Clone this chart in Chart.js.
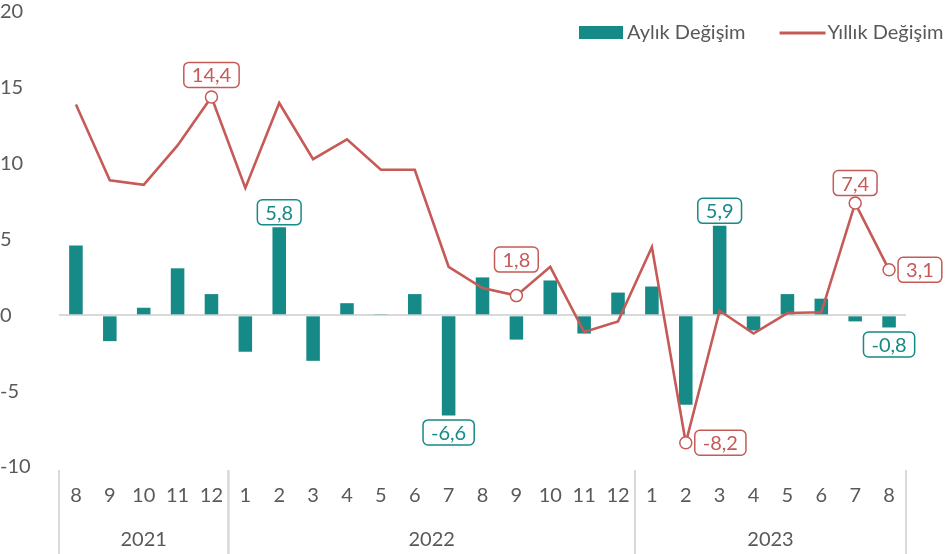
<!DOCTYPE html>
<html lang="tr">
<head>
<meta charset="utf-8">
<title>Aylık ve Yıllık Değişim</title>
<script src="https://cdn.jsdelivr.net/npm/chart.js@4.4.1/dist/chart.umd.min.js"></script>
<style>
    html, body { margin: 0; padding: 0; background: #fff; }
    #wrap { position: relative; width: 950px; height: 554px; }
</style>
</head>
<body>
<div id="wrap"><canvas id="chart"></canvas></div>
<script>
// ── Data ───────────────────────────────────────────────
const months = ['8', '9', '10', '11', '12',
    '1', '2', '3', '4', '5', '6', '7', '8', '9', '10', '11', '12',
    '1', '2', '3', '4', '5', '6', '7', '8'];
const years = ['2021', '2022', '2023'];
const yearSpans = [5, 12, 8];

const monthlyChange = [4.6, -1.7, 0.5, 3.1, 1.4,
    -2.4, 5.8, -3.0, 0.8, 0.05, 1.4, -6.6, 2.5, -1.6, 2.3, -1.2, 1.5,
    1.9, -5.9, 5.9, -1.0, 1.4, 1.1, -0.4, -0.8];
const yearlyChange = [13.9, 8.9, 8.6, 11.2, 14.4,
    8.4, 14.0, 10.3, 11.6, 9.6, 9.6, 3.2, 1.8, 1.3, 3.2, -1.1, -0.4,
    4.5, -8.4, 0.3, -1.2, 0.15, 0.2, 7.4, 3.0];

const yTicks = [-10, -5, 0, 5, 10, 15, 20];

// annotated points
const barLabelIdx = [6, 11, 19, 24];
const lineLabelIdx = [4, 13, 18, 23, 24];
const lineLabelText = ['14,4', '1,8', '-8,2', '7,4', '3,1'];

(function() {
    'use strict';

    const TEAL = '#168a87';
    const RED = '#c55a57';
    const TEXT = '#595959';
    const RULE = '#d9d9d9';
    const FONT = "Lato, 'Open Sans', sans-serif";
    const SIZE = 20;

    // where each line label sits relative to its marker: side + lift
    const lineLabelSide = {
        4: ['top', 22], 13: ['top', 36], 18: ['right', 0], 23: ['top', 20], 24: ['right', 0]
    };

    function fmt(v) {
        return v.toFixed(1).replace('.', ',');
    }

    function roundRect(ctx, x, y, w, h, r) {
        ctx.beginPath();
        ctx.moveTo(x + r, y);
        ctx.lineTo(x + w - r, y);
        ctx.arcTo(x + w, y, x + w, y + r, r);
        ctx.lineTo(x + w, y + h - r);
        ctx.arcTo(x + w, y + h, x + w - r, y + h, r);
        ctx.lineTo(x + r, y + h);
        ctx.arcTo(x, y + h, x, y + h - r, r);
        ctx.lineTo(x, y + r);
        ctx.arcTo(x, y, x + r, y, r);
        ctx.closePath();
    }

    function tagWidth(ctx, text) {
        ctx.font = SIZE + 'px ' + FONT;
        return ctx.measureText(text).width + 16;
    }

    function drawTag(ctx, text, cx, cy, color) {
        const w = tagWidth(ctx, text);
        const h = 25;
        roundRect(ctx, cx - w / 2, cy - h / 2, w, h, 5);
        ctx.fillStyle = '#fff';
        ctx.fill();
        ctx.lineWidth = 1.5;
        ctx.strokeStyle = color;
        ctx.stroke();
        ctx.fillStyle = color;
        ctx.textAlign = 'center';
        ctx.textBaseline = 'middle';
        ctx.fillText(text, cx, cy + 1);
    }

    // ── Value tags ─────────────────────────────────────────
    const tagPlugin = {
        id: 'tags',
        afterDatasetsDraw(chart) {
            const ctx = chart.ctx;
            ctx.save();
            const bars = chart.getDatasetMeta(0).data;
            barLabelIdx.forEach((i) => {
                const el = bars[i];
                const v = monthlyChange[i];
                const cy = v >= 0 ? el.y - 15 : el.y + 17;
                drawTag(ctx, fmt(v), el.x, cy, TEAL);
            });
            const pts = chart.getDatasetMeta(1).data;
            lineLabelIdx.forEach((i, k) => {
                const el = pts[i];
                const text = lineLabelText[k];
                const side = lineLabelSide[i];
                if (side[0] === 'right') {
                    drawTag(ctx, text, el.x + 9 + tagWidth(ctx, text) / 2, el.y, RED);
                } else {
                    drawTag(ctx, text, el.x, el.y - side[1], RED);
                }
            });
            ctx.restore();
        }
    };

    // ── Year groups under the month axis ───────────────────
    const yearPlugin = {
        id: 'years',
        afterDraw(chart) {
            const ctx = chart.ctx;
            const x = chart.scales.x;
            const half = (x.getPixelForValue(1) - x.getPixelForValue(0)) / 2;
            const top = chart.chartArea.bottom + 3;
            const bottom = chart.height;
            ctx.save();
            ctx.strokeStyle = RULE;
            ctx.lineWidth = 2;
            ctx.fillStyle = TEXT;
            ctx.font = SIZE + 'px ' + FONT;
            ctx.textAlign = 'center';
            ctx.textBaseline = 'middle';
            let start = 0;
            years.forEach((yr, g) => {
                const end = start + yearSpans[g] - 1;
                const left = x.getPixelForValue(start) - half;
                const right = x.getPixelForValue(end) + half;
                [left, right].forEach((px) => {
                    ctx.beginPath();
                    ctx.moveTo(px, top);
                    ctx.lineTo(px, bottom);
                    ctx.stroke();
                });
                ctx.fillText(yr, (left + right) / 2, chart.chartArea.bottom + 73);
                start = end + 1;
            });
            ctx.restore();
        }
    };

    // ── Legend (sits over the plot, top right) ─────────────
    const legendPlugin = {
        id: 'topLegend',
        afterDraw(chart) {
            const ctx = chart.ctx;
            const ds = chart.data.datasets;
            ctx.save();
            ctx.font = SIZE + 'px ' + FONT;
            ctx.textBaseline = 'middle';
            ctx.textAlign = 'left';
            const cy = 33;
            let x = 579;
            ctx.fillStyle = ds[0].backgroundColor;
            ctx.fillRect(x, cy - 7, 44, 13);
            x += 48;
            ctx.fillStyle = TEXT;
            ctx.fillText(ds[0].label, x, cy);
            x += ctx.measureText(ds[0].label).width + 34;
            ctx.strokeStyle = ds[1].borderColor;
            ctx.lineWidth = 3;
            ctx.beginPath();
            ctx.moveTo(x, cy);
            ctx.lineTo(x + 46, cy);
            ctx.stroke();
            x += 48;
            ctx.fillText(ds[1].label, x, cy);
            ctx.restore();
        }
    };

    function init() {
        const canvas = document.getElementById('chart');
        new Chart(canvas.getContext('2d'), {
            type: 'bar',
            data: {
                labels: months,
                datasets: [
                    {
                        type: 'bar',
                        label: 'Aylık Değişim',
                        data: monthlyChange,
                        backgroundColor: TEAL,
                        barPercentage: 0.4,
                        categoryPercentage: 1,
                        order: 2
                    },
                    {
                        type: 'line',
                        label: 'Yıllık Değişim',
                        data: yearlyChange,
                        borderColor: RED,
                        borderWidth: 2.6,
                        tension: 0,
                        pointRadius: (c) => lineLabelIdx.includes(c.dataIndex) ? 6 : 0,
                        pointBackgroundColor: '#fff',
                        pointBorderColor: RED,
                        pointBorderWidth: 1.5,
                        order: 1
                    }
                ]
            },
            options: {
                responsive: true,
                maintainAspectRatio: false,
                animation: false,
                layout: { padding: { top: 12, right: 44, left: 0, bottom: 0 } },
                plugins: {
                    legend: { display: false },
                    tooltip: { enabled: false }
                },
                scales: {
                    x: {
                        grid: { display: false, drawTicks: false },
                        border: { display: false },
                        ticks: {
                            color: TEXT,
                            font: { size: SIZE, family: FONT },
                            padding: 17,
                            maxRotation: 0,
                            autoSkip: false
                        },
                        afterFit: (s) => { s.height = 87; }
                    },
                    y: {
                        min: -10,
                        max: 20,
                        afterBuildTicks: (s) => { s.ticks = yTicks.map((v) => ({ value: v })); },
                        grid: {
                            drawTicks: false,
                            color: (c) => c.tick && c.tick.value === 0 ? RULE : 'rgba(0,0,0,0)',
                            lineWidth: 2
                        },
                        border: { display: false },
                        ticks: {
                            color: TEXT,
                            font: { size: SIZE, family: FONT },
                            crossAlign: 'far',
                            padding: 0
                        },
                        afterFit: (s) => { s.width = 59; }
                    }
                }
            },
            plugins: [tagPlugin, yearPlugin, legendPlugin]
        });
    }

    if (document.readyState === 'loading') {
        document.addEventListener('DOMContentLoaded', init);
    } else {
        init();
    }
})();
</script>
</body>
</html>
